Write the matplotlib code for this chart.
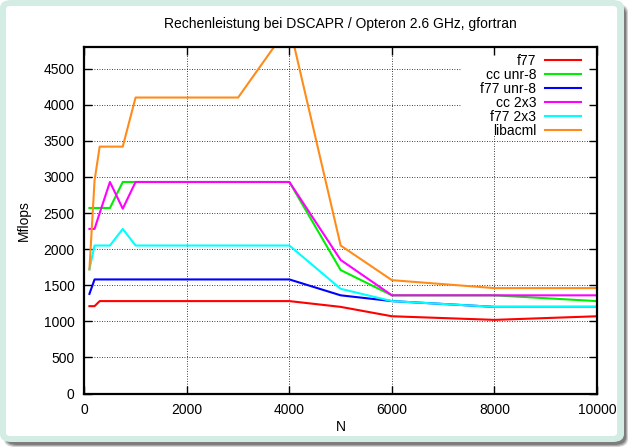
import matplotlib
matplotlib.use("Agg")
import matplotlib.pyplot as plt
from matplotlib.patches import FancyBboxPatch, Rectangle

plt.rcParams['font.family'] = ['Liberation Sans', 'DejaVu Sans']

N = [100, 200, 300, 500, 750, 1000, 2000, 3000, 4000, 5000, 6000, 8000, 10000]
f77 = [1210, 1210, 1280, 1280, 1280, 1280, 1280, 1280, 1280, 1200, 1070, 1020, 1070]
cc_unr8 = [2570, 2570, 2570, 2570, 2930, 2930, 2930, 2930, 2930, 1710, 1360, 1360, 1280]
f77_unr8 = [1380, 1580, 1580, 1580, 1580, 1580, 1580, 1580, 1580, 1360, 1280, 1200, 1200]
cc_2x3 = [2280, 2280, 2500, 2930, 2560, 2930, 2930, 2930, 2930, 1850, 1360, 1360, 1360]
f77_2x3 = [1720, 2050, 2050, 2050, 2280, 2050, 2050, 2050, 2050, 1450, 1280, 1200, 1200]
libacml = [1720, 2950, 3420, 3420, 3420, 4100, 4100, 4100, 5100, 2050, 1570, 1460, 1460]

series = [
    ("f77", f77, "#ff0000"),
    ("cc unr-8", cc_unr8, "#00ee00"),
    ("f77 unr-8", f77_unr8, "#0000ff"),
    ("cc 2x3", cc_2x3, "#ff00ff"),
    ("f77 2x3", f77_2x3, "#00ffff"),
    ("libacml", libacml, "#ff8c1a"),
]

title = "Rechenleistung bei DSCAPR / Opteron 2.6 GHz, gfortran"
xlabel = "N"
ylabel = "Mflops"
xticks = [0, 2000, 4000, 6000, 8000, 10000]
yticks = [0, 500, 1000, 1500, 2000, 2500, 3000, 3500, 4000, 4500]

W, H = 632, 448
fig = plt.figure(figsize=(W / 100, H / 100), dpi=100, facecolor="white")

def box(x0, y0, x1, y1, color, r=6, z=0, alpha=1.0):
    # pixel coords, origin top-left
    p = FancyBboxPatch((x0 / W, 1 - y1 / H), (x1 - x0) / W, (y1 - y0) / H,
                       boxstyle=f"round,pad=0,rounding_size={r / H}",
                       transform=fig.transFigure, facecolor=color,
                       edgecolor="none", zorder=z, alpha=alpha)
    fig.patches.append(p)

# shadow (soft)
for i, a in enumerate([0.25, 0.35, 0.5]):
    box(4 + i, 4 + i, 628 - i, 447 - i, "#555555", r=8, z=-3, alpha=a)
box(0, 0, 624, 442, "#d4ede4", r=8, z=-2)
box(6, 6, 617, 436, "white", r=3, z=-1)

ax_l, ax_r, ax_t, ax_b = 84.3, 597.0, 47.0, 393.5
ax = fig.add_axes([ax_l / W, 1 - ax_b / H, (ax_r - ax_l) / W, (ax_b - ax_t) / H])
ax.set_facecolor("none")

for label, vals, c in series:
    ax.plot(N, vals, color=c, lw=1.5, label=label, zorder=2)

ax.set_xlim(0, 10000)
ax.set_ylim(0, 4800)
ax.set_xticks(xticks)
ax.set_yticks(yticks)
ax.tick_params(direction="in", length=6, width=1.0, top=True, right=True,
               labelsize=10, pad=7, colors="black")
# dotted grid drawn below the legend box
for xv in xticks[1:-1]:
    ax.axvline(xv, color="black", linestyle=(0, (1, 2)), linewidth=0.6, zorder=0.5)
for yv in yticks[1:]:
    ax.axhline(yv, color="black", linestyle=(0, (1, 2)), linewidth=0.6, zorder=0.5)
for s in ax.spines.values():
    s.set_linewidth(1.6)

# white key box (gnuplot-style) hiding the grid behind the legend
kx0 = (461 - ax_l) / (ax_r - ax_l)
ky0 = (ax_b - 135) / (ax_b - ax_t)
ax.add_patch(Rectangle((kx0, ky0), 1 - kx0, 1 - ky0, transform=ax.transAxes,
                       facecolor="white", edgecolor="none", zorder=1.0))

ax.set_title(title, fontsize=10, pad=14)
ax.set_xlabel(xlabel, fontsize=10, labelpad=2)
ax.set_ylabel(ylabel, fontsize=10, labelpad=9)

leg = ax.legend(loc="upper right", frameon=False, markerfirst=False,
                fontsize=10, handlelength=2.6, labelspacing=0.0,
                handletextpad=0.6, borderaxespad=0.0, borderpad=0.25,
                bbox_to_anchor=(0.975, 0.99))
for t in leg.get_texts():
    t.set_ha("right")

fig.savefig("out.png", dpi=100)
